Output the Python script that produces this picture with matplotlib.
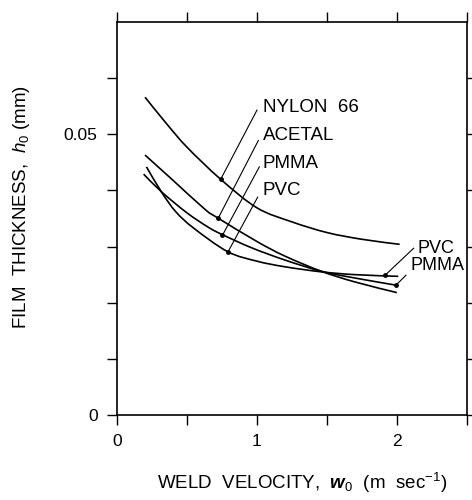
import matplotlib
matplotlib.use("Agg")
import matplotlib.pyplot as plt
from matplotlib.path import Path
from matplotlib.patches import PathPatch
import numpy as np

plt.rcParams['font.family'] = ['Liberation Sans', 'DejaVu Sans']
plt.rcParams['mathtext.fontset'] = 'custom'
plt.rcParams['mathtext.rm'] = 'Liberation Sans'
plt.rcParams['mathtext.it'] = 'Liberation Sans:italic'
plt.rcParams['mathtext.bf'] = 'Liberation Sans:bold:italic'

# Data (weld velocity m/s, film thickness mm)
nylon_x = [0.2, 0.35, 0.5, 0.74, 1.0, 1.25, 1.5, 1.75, 2.02]
nylon_y = [0.0566, 0.0520, 0.0477, 0.0420, 0.0369, 0.0344, 0.0325, 0.0313, 0.0304]

acetal_x = [0.2, 0.4, 0.63, 0.72, 1.0, 1.2, 1.46, 1.7, 2.0]
acetal_y = [0.0463, 0.0418, 0.0366, 0.0351, 0.0309, 0.0283, 0.0256, 0.0237, 0.0218]

pmma_x = [0.19, 0.32, 0.5, 0.655, 0.755, 0.96, 1.2, 1.46, 1.7, 2.0]
pmma_y = [0.0429, 0.0397, 0.0360, 0.0334, 0.0321, 0.0298, 0.0276, 0.0256, 0.0244, 0.0231]

pvc_x = [0.21, 0.318, 0.42, 0.547, 0.79, 1.0, 1.2, 1.46, 1.7, 2.01]
pvc_y = [0.0442, 0.0397, 0.0362, 0.0333, 0.0291, 0.0274, 0.0264, 0.0255, 0.0250, 0.0247]

fig = plt.figure(figsize=(4.72, 5.0), dpi=100)
ax = fig.add_axes([0.248, 0.17, 0.741, 0.786])


def smooth_path(xs, ys):
    """Catmull-Rom spline through the points as cubic Bezier path."""
    p = np.column_stack([xs, ys]).astype(float)
    n = len(p)
    verts = [p[0]]
    codes = [Path.MOVETO]
    for i in range(n - 1):
        p0 = p[i - 1] if i > 0 else p[i]
        p1 = p[i]
        p2 = p[i + 1]
        p3 = p[i + 2] if i + 2 < n else p[i + 1]
        c1 = p1 + (p2 - p0) / 6.0
        c2 = p2 - (p3 - p1) / 6.0
        verts += [c1, c2, p2]
        codes += [Path.CURVE4] * 3
    return Path(verts, codes)


lw = 1.2
for xs, ys in [(nylon_x, nylon_y), (acetal_x, acetal_y), (pmma_x, pmma_y), (pvc_x, pvc_y)]:
    ax.add_patch(PathPatch(smooth_path(xs, ys), facecolor='none', edgecolor='black', lw=lw))

fs = 13.5
# Leader lines with dots (left labels)
left_labels = ["NYLON  66", "ACETAL", "PMMA", "PVC"]
left_marks = [(0.741, 0.0420), (0.722, 0.0350), (0.753, 0.0320), (0.794, 0.0291)]
left_tops = [(1.0, 0.0543), (1.01, 0.0489), (1.017, 0.0442), (1.005, 0.0388)]
left_text_y = [0.0548, 0.0498, 0.0448, 0.0399]
for lab, (mx, my), (tx, ty), ly in zip(left_labels, left_marks, left_tops, left_text_y):
    ax.plot([mx, tx], [my, ty], color='black', lw=0.8)
    ax.plot([mx], [my], 'o', color='black', ms=2.5)
    ax.text(1.043, ly, lab, fontsize=fs, va='center', ha='left')

# Right labels
right_labels = ["PVC", "PMMA"]
right_marks = [(1.916, 0.0249), (1.993, 0.0231)]
right_tops = [(2.12, 0.0297), (2.065, 0.0249)]
right_text = [(2.144, 0.0296), (2.094, 0.0266)]
for lab, (mx, my), (tx, ty), (lx, ly) in zip(right_labels, right_marks, right_tops, right_text):
    ax.plot([mx, tx], [my, ty], color='black', lw=0.8)
    ax.plot([mx], [my], 'o', color='black', ms=2.5)
    ax.text(lx, ly, lab, fontsize=13, va='center', ha='left')

ax.set_xlim(0, 2.5)
ax.set_ylim(0, 0.07)

xticks = [0, 0.5, 1, 1.5, 2, 2.5]
xticklabels = ["0", "", "1", "", "2", ""]
yticks = [0, 0.01, 0.02, 0.03, 0.04, 0.05, 0.06]
yticklabels = ["0", "", "", "", "", "0.05", ""]
ax.set_xticks(xticks)
ax.set_xticklabels(xticklabels)
ax.set_yticks(yticks)
ax.set_yticklabels(yticklabels)
ax.tick_params(direction='out', length=7, width=1.0, top=True, right=True,
               labelsize=12.5, pad=7)
for s in ax.spines.values():
    s.set_linewidth(1.2)

ax.set_xlabel(r"WELD  VELOCITY,  $\mathbf{w}_0$  (m  sec$^{-1}$)", fontsize=fs)
ax.xaxis.label.set_va('center')
ax.xaxis.set_label_coords(0.529, -0.173)
ax.set_ylabel(r"FILM  THICKNESS,  $h_0$ (mm)", fontsize=fs)
ax.yaxis.label.set_va('center')
ax.yaxis.set_label_coords(-0.274, 0.529)

fig.savefig("out.png", dpi=100)
